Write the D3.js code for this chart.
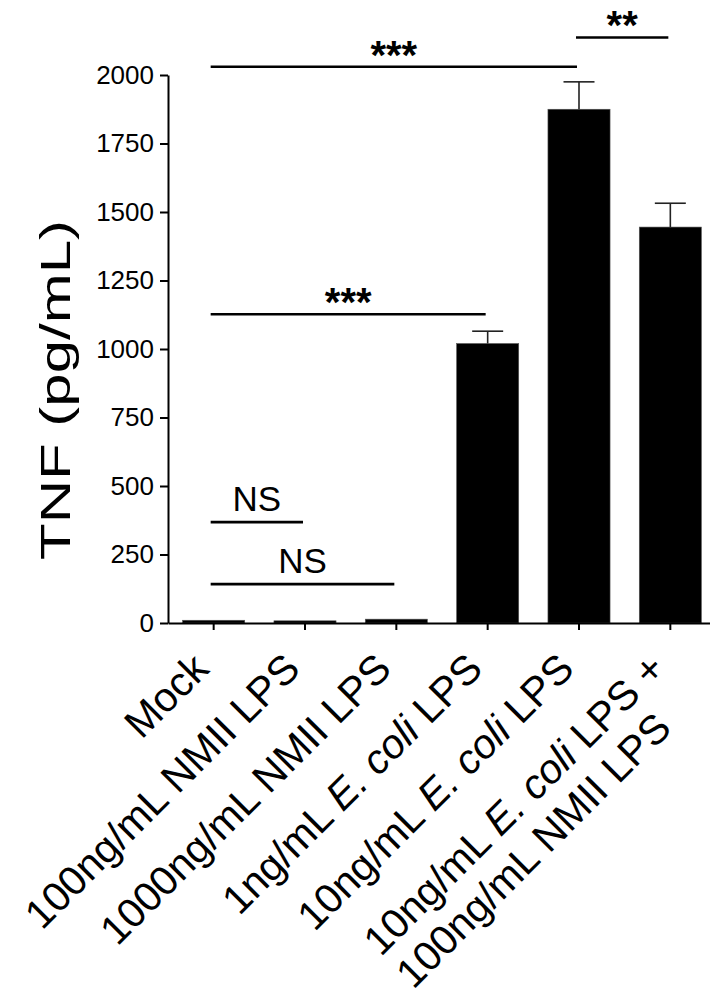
<!DOCTYPE html>
<html>
<head>
<meta charset="utf-8">
<script src="https://cdnjs.cloudflare.com/ajax/libs/d3/7.8.5/d3.min.js"></script>
<style>
  html, body { margin: 0; padding: 0; background: #fff; }
  svg { display: block; font-family: "Liberation Sans", Arial, sans-serif; }
</style>
</head>
<body>
<div id="chart"></div>
<script>
// groups, <i> marks italic, \n splits lines
var categories = [
  "Mock",
  "100ng/mL NMII LPS",
  "1000ng/mL NMII LPS",
  "1ng/mL <i>E. coli</i> LPS",
  "10ng/mL <i>E. coli</i> LPS",
  "10ng/mL <i>E. coli</i> LPS +\n100ng/mL NMII LPS"
];
var tnfMean = [10, 8, 14, 1020, 1875, 1445];
var tnfSem = [0, 0, 0, 45, 100, 87];
var yTicks = [0, 250, 500, 750, 1000, 1250, 1500, 1750, 2000];
// [from group, to group, height (pg/mL), label]
var sigBrackets = [
  [0, 1, 368, "NS"],
  [0, 2, 142, "NS"],
  [0, 3, 1127, "***"],
  [0, 4, 2030, "***"],
  [4, 5, 2137, "**"]
];

var width = 710, height = 997;
var svg = d3.select("#chart").append("svg")
  .attr("width", width)
  .attr("height", height);

var x = d3.scaleBand()
  .domain(d3.range(categories.length))
  .range([168, 716])
  .paddingInner(0.32)
  .paddingOuter(0.16);
var y = d3.scaleLinear().domain([0, 2000]).range([623, 75]);

var bw = x.bandwidth();
var cx = function(i){ return x(i) + bw / 2; };

// bars
svg.append("g").selectAll("rect")
  .data(tnfMean)
  .enter().append("rect")
  .attr("x", function(d, i){ return x(i); })
  .attr("y", function(d){ return y(d); })
  .attr("width", bw)
  .attr("height", function(d){ return y(0) - y(d); })
  .attr("fill", "#000")
  .attr("stroke", "#555")
  .attr("stroke-width", 0.6);

// error bars (upper only)
var err = svg.append("g").attr("stroke", "#222").attr("stroke-width", 1.6);
tnfMean.forEach(function(m, i){
  if(!tnfSem[i]) return;
  err.append("line")
    .attr("x1", cx(i)).attr("x2", cx(i))
    .attr("y1", y(m)).attr("y2", y(m + tnfSem[i]));
  err.append("line")
    .attr("x1", cx(i) - 15.5).attr("x2", cx(i) + 15.5)
    .attr("y1", y(m + tnfSem[i])).attr("y2", y(m + tnfSem[i]));
});

// y axis
var yAxis = svg.append("g")
  .attr("transform", "translate(168,0)")
  .call(d3.axisLeft(y).tickValues(yTicks).tickFormat(d3.format("d"))
    .tickSize(8).tickPadding(6).tickSizeOuter(0));
yAxis.selectAll("path, line").attr("stroke", "#000").attr("stroke-width", 2);
yAxis.selectAll("text").attr("font-size", 26).attr("font-family", null).attr("fill", "#000");

// x axis
var xAxis = svg.append("g")
  .attr("transform", "translate(0,623)")
  .call(d3.axisBottom(x).tickSize(7).tickSizeOuter(0).tickFormat(""));
xAxis.selectAll("path, line").attr("stroke", "#000").attr("stroke-width", 2);

// rotated group labels
var labelG = svg.append("g")
  .attr("font-size", 41)
  .attr("fill", "#000");

function addParts(textSel, str){
  str.split(/(<i>.*?<\/i>)/).forEach(function(part){
    if(!part) return;
    var it = /^<i>/.test(part);
    textSel.append("tspan")
      .attr("font-style", it ? "italic" : null)
      .text(it ? part.replace(/<\/?i>/g, "") : part);
  });
}

categories.forEach(function(c, i){
  var g = labelG.append("g")
    .attr("transform", "translate(" + (cx(i) - 3) + ",671) rotate(-45)");
  var lines = c.split("\n");
  var first = g.append("text").attr("text-anchor", "end").attr("x", 0).attr("y", 0);
  addParts(first, lines[0]);
  if(lines.length > 1){
    var w = first.node().getComputedTextLength();
    var second = g.append("text").attr("text-anchor", "start")
      .attr("x", -w).attr("y", 46);
    addParts(second, lines[1]);
  }
});

// y axis title
svg.append("text")
  .attr("transform", "translate(70,390) rotate(-90)")
  .attr("text-anchor", "middle")
  .attr("font-size", 42)
  .attr("textLength", 340)
  .attr("lengthAdjust", "spacingAndGlyphs")
  .text("TNF (pg/mL)");

// significance brackets
var sig = svg.append("g");
sigBrackets.forEach(function(b){
  var x1 = cx(b[0]) - 3, x2 = cx(b[1]) - 2, yy = y(b[2]);
  sig.append("line")
    .attr("x1", x1).attr("x2", x2)
    .attr("y1", yy).attr("y2", yy)
    .attr("stroke", "#000").attr("stroke-width", 2.6);
  var star = b[3].indexOf("*") >= 0;
  sig.append("text")
    .attr("x", (x1 + x2) / 2)
    .attr("y", star ? yy + 2 : yy - 11)
    .attr("text-anchor", "middle")
    .attr("font-size", star ? 40 : 35)
    .attr("font-weight", star ? "bold" : null)
    .text(b[3]);
});
</script>
</body>
</html>
